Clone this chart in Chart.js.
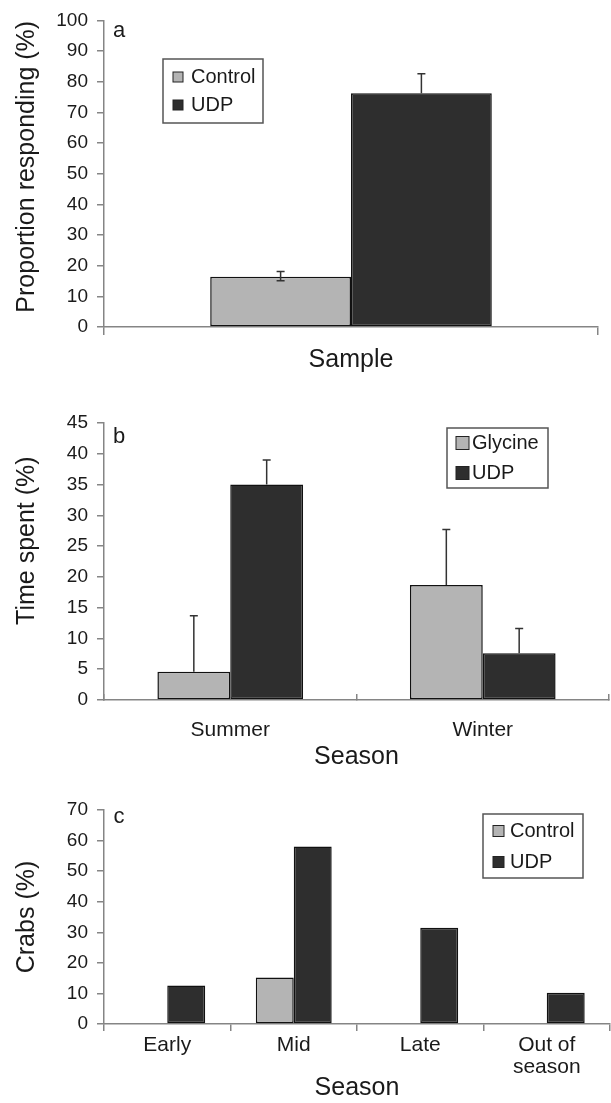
<!DOCTYPE html>
<html>
  <head>
    <title>Crab responses</title>
    <script src="https://cdn.jsdelivr.net/npm/chart.js"></script>
    <style>
      html,
      body {
        margin: 0;
        padding: 0;
        width: 611px;
        height: 1103px;
        overflow: hidden;
        background-color: white;
      }
      .panel {
        position: absolute;
        left: 0;
        width: 611px;
      }
    </style>
  </head>
  <body>
    <div class="panel" style="top: 0px; height: 380px"><canvas id="chartA"></canvas></div>
    <div class="panel" style="top: 375px; height: 397px"><canvas id="chartB"></canvas></div>
    <div class="panel" style="top: 770px; height: 333px"><canvas id="chartC"></canvas></div>
    <script>
      // panel a
      var sampleLabels = ["Sample"];
      var controlA = [16.4];
      var udpA = [76.2];
      var controlAErrUp = [1.7];
      var controlAErrDown = [1.3];
      var udpAErrUp = [6.4];

      // panel b
      var seasonsB = ["Summer", "Winter"];
      var glycineB = [4.6, 18.7];
      var udpB = [35.0, 7.6];
      var glycineErrB = [9.1, 9.0];
      var udpErrB = [4.0, 4.0];

      // panel c
      var seasonsC = ["Early", "Mid", "Late", ["Out of", "season"]];
      var controlC = [0, 15.2, 0, 0];
      var udpC = [12.6, 58.1, 31.5, 10.2];

      var lightGrey = "#b4b4b4";
      var darkGrey = "#2e2e2e";
      var axisColor = "#858585";
      var textColor = "#1a1a1a";
      var family = "'Liberation Sans', Arial, sans-serif";
      var nb = "\u00a0"; // leading spaces nudge a rotated title upwards

      Chart.defaults.font.family = family;
      Chart.defaults.color = textColor;

      // error bars, panel letter and boxed legend
      var panelDecor = {
        id: "panelDecor",
        afterDatasetsDraw: function (chart, args, opts) {
          var ctx = chart.ctx;
          var area = chart.chartArea;
          var yScale = chart.scales.y;

          chart.data.datasets.forEach(function (ds, i) {
            if (!ds.errUp) return;
            var meta = chart.getDatasetMeta(i);
            meta.data.forEach(function (bar, j) {
              var up = ds.errUp[j] || 0;
              var down = ds.errDown ? ds.errDown[j] || 0 : 0;
              if (!up && !down) return;
              var v = ds.data[j];
              var yTop = yScale.getPixelForValue(v + up);
              var yBot = yScale.getPixelForValue(v - down);
              ctx.save();
              ctx.strokeStyle = "#333";
              ctx.lineWidth = 1.5;
              ctx.beginPath();
              ctx.moveTo(bar.x, yTop);
              ctx.lineTo(bar.x, yBot);
              ctx.moveTo(bar.x - 4, yTop);
              ctx.lineTo(bar.x + 4, yTop);
              if (down) {
                ctx.moveTo(bar.x - 4, yBot);
                ctx.lineTo(bar.x + 4, yBot);
              }
              ctx.stroke();
              ctx.restore();
            });
          });

          ctx.save();
          ctx.fillStyle = textColor;
          ctx.font = "22px " + family;
          ctx.textAlign = "center";
          ctx.textBaseline = "middle";
          ctx.fillText(opts.letter, area.left + 15, area.top + opts.letterDy);
          ctx.restore();

          var lg = opts.legend;
          ctx.save();
          ctx.fillStyle = "white";
          ctx.fillRect(lg.x, lg.y, lg.w, lg.h);
          ctx.strokeStyle = "#555";
          ctx.lineWidth = 1.5;
          ctx.strokeRect(lg.x, lg.y, lg.w, lg.h);
          ctx.font = "20px " + family;
          ctx.textBaseline = "middle";
          chart.data.datasets.forEach(function (ds, i) {
            var ry = lg.rows[i];
            ctx.fillStyle = ds.backgroundColor;
            ctx.fillRect(lg.sx, ry - lg.size / 2, lg.size, lg.size);
            ctx.strokeStyle = "#222";
            ctx.lineWidth = 1;
            ctx.strokeRect(lg.sx, ry - lg.size / 2, lg.size, lg.size);
            ctx.fillStyle = textColor;
            ctx.fillText(ds.label, lg.tx, ry);
          });
          ctx.restore();
        },
      };

      function barSet(label, data, color, errUp, errDown) {
        return {
          label: label,
          data: data,
          backgroundColor: color,
          borderColor: "#111",
          borderWidth: 1.5,
          borderSkipped: false,
          barPercentage: 1,
          errUp: errUp,
          errDown: errDown,
        };
      }

      function yAxis(max, step, title) {
        return {
          min: 0,
          max: max,
          ticks: { stepSize: step, font: { size: 19 }, color: textColor, padding: 9 },
          grid: { drawOnChartArea: false, tickLength: 7, color: axisColor, lineWidth: 1.5 },
          border: { color: axisColor, width: 1.5 },
          title: {
            display: true,
            text: title,
            color: textColor,
            font: { size: 25 },
            padding: { top: 12, bottom: 0 },
          },
          afterFit: function (s) {
            s.width = 104;
          },
        };
      }

      function xAxis(showTicks, tl, pad, lineHeight, height, titlePad) {
        return {
          ticks: {
            display: showTicks,
            font: { size: 21, lineHeight: lineHeight },
            color: textColor,
            padding: pad,
            maxRotation: 0,
            autoSkip: false,
          },
          grid: { drawOnChartArea: false, offset: true, tickLength: tl, color: axisColor, lineWidth: 1.5 },
          border: { color: axisColor, width: 1.5 },
          title: {
            display: true,
            text: "Season",
            color: textColor,
            font: { size: 25 },
            padding: { top: 0, bottom: titlePad },
          },
          afterFit: function (s) {
            s.height = height;
          },
        };
      }

      // panel a
      var xA = xAxis(false, 8, 0, 1.2, 53, 5);
      xA.title.text = "Sample";
      new Chart(document.getElementById("chartA"), {
        type: "bar",
        data: {
          labels: sampleLabels,
          datasets: [
            barSet("Control", controlA, lightGrey, controlAErrUp, controlAErrDown),
            barSet("UDP", udpA, darkGrey, udpAErrUp, null),
          ],
        },
        options: {
          animation: false,
          responsive: true,
          maintainAspectRatio: false,
          categoryPercentage: 0.57,
          layout: { padding: { top: 19, right: 13, bottom: 0, left: 0 } },
          scales: {
            x: xA,
            y: yAxis(100, 10, nb + nb + "Proportion responding (%)"),
          },
          plugins: {
            legend: { display: false },
            tooltip: { enabled: false },
            panelDecor: {
              letter: "a",
              letterDy: 11,
              legend: { x: 163, y: 59, w: 100, h: 64, rows: [77, 105], sx: 173, size: 10, tx: 191 },
            },
          },
        },
        plugins: [panelDecor],
      });

      // panel b
      new Chart(document.getElementById("chartB"), {
        type: "bar",
        data: {
          labels: seasonsB,
          datasets: [
            barSet("Glycine", glycineB, lightGrey, glycineErrB, null),
            barSet("UDP", udpB, darkGrey, udpErrB, null),
          ],
        },
        options: {
          animation: false,
          responsive: true,
          maintainAspectRatio: false,
          categoryPercentage: 0.577,
          layout: { padding: { top: 48, right: 2, bottom: 0, left: 0 } },
          scales: {
            x: xAxis(true, -6, 24, 1.2, 72, 0),
            y: yAxis(45, 5, nb.repeat(6) + "Time spent (%)"),
          },
          plugins: {
            legend: { display: false },
            tooltip: { enabled: false },
            panelDecor: {
              letter: "b",
              letterDy: 14,
              legend: { x: 447, y: 53, w: 101, h: 60, rows: [68, 98], sx: 456, size: 13, tx: 472 },
            },
          },
        },
        plugins: [panelDecor],
      });

      // panel c
      new Chart(document.getElementById("chartC"), {
        type: "bar",
        data: {
          labels: seasonsC,
          datasets: [
            barSet("Control", controlC, lightGrey, null, null),
            barSet("UDP", udpC, darkGrey, null, null),
          ],
        },
        options: {
          animation: false,
          responsive: true,
          maintainAspectRatio: false,
          categoryPercentage: 0.6,
          layout: { padding: { top: 40, right: 1, bottom: 0, left: 0 } },
          scales: {
            x: xAxis(true, 7, 3, 1.05, 79, 0),
            y: yAxis(70, 10, "Crabs (%)"),
          },
          plugins: {
            legend: { display: false },
            tooltip: { enabled: false },
            panelDecor: {
              letter: "c",
              letterDy: 7,
              legend: { x: 483, y: 44, w: 100, h: 64, rows: [61, 92], sx: 493, size: 11, tx: 510 },
            },
          },
        },
        plugins: [panelDecor],
      });
    </script>
  </body>
</html>
